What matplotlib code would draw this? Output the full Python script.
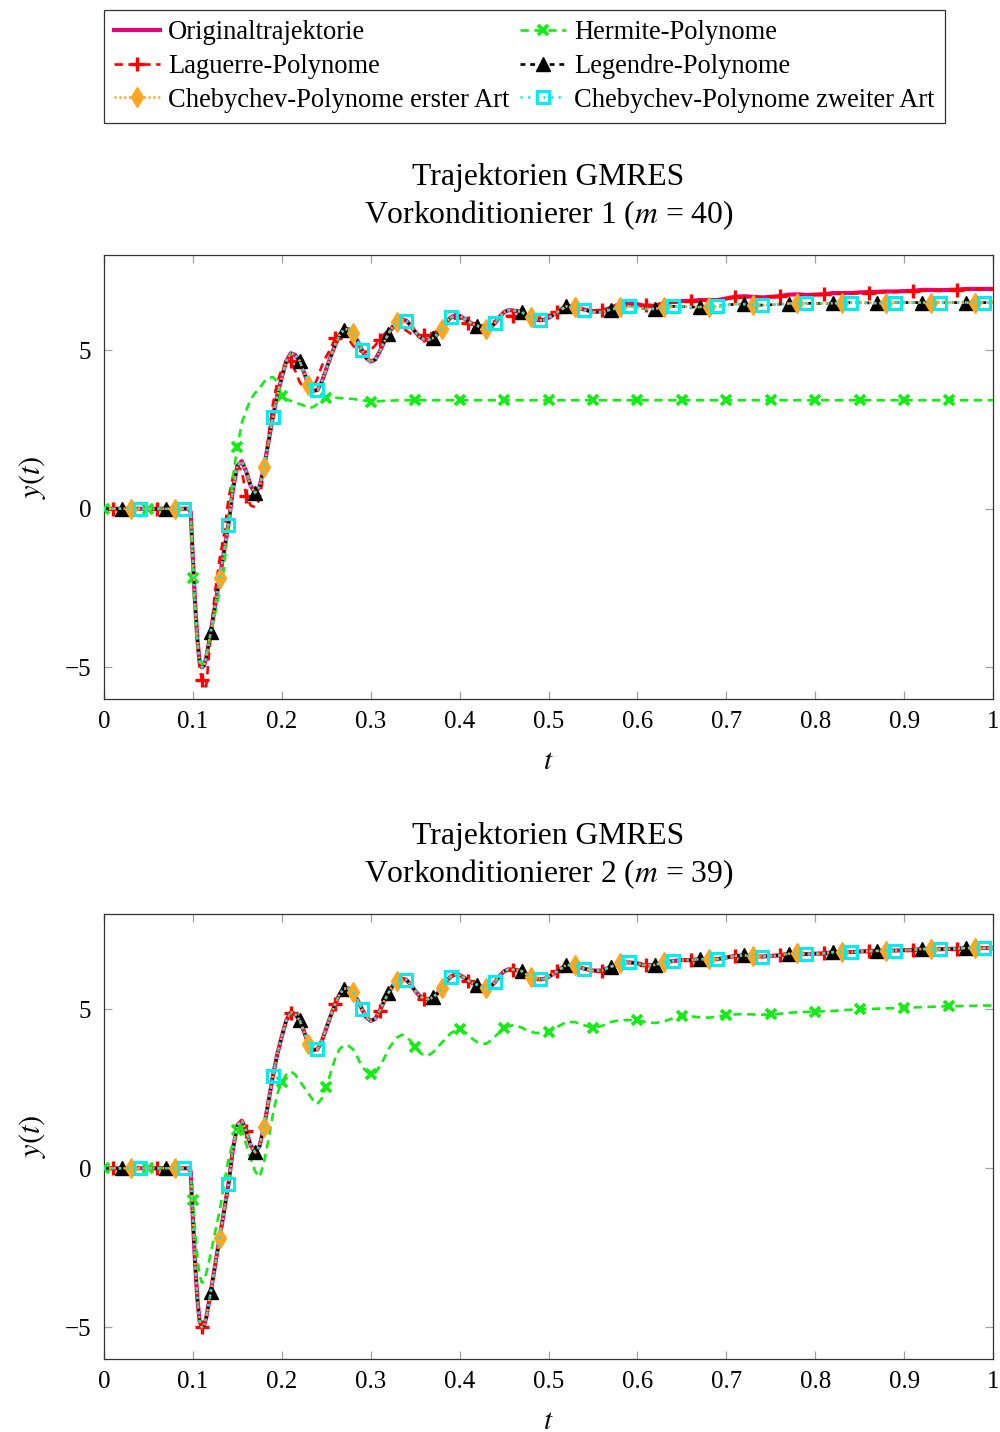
import numpy as np
import matplotlib
matplotlib.use("Agg")
import matplotlib.pyplot as plt

plt.rcParams['font.family'] = ['Liberation Serif', 'DejaVu Serif']
plt.rcParams['mathtext.fontset'] = 'stix'
plt.rcParams['lines.scale_dashes'] = False

# ---------------- data ----------------
T = [0.00, 0.01, 0.02, 0.03, 0.04, 0.05, 0.06, 0.07, 0.08, 0.09,
     0.095, 0.0975, 0.100, 0.1025, 0.105, 0.1075, 0.110, 0.1125, 0.115, 0.120,
     0.125, 0.130, 0.135, 0.140, 0.145, 0.150, 0.155, 0.160, 0.165, 0.170,
     0.175, 0.180, 0.185, 0.190, 0.195, 0.200, 0.205, 0.210, 0.215, 0.220,
     0.225, 0.230, 0.235, 0.240, 0.245, 0.250, 0.255, 0.260, 0.265, 0.270,
     0.275, 0.280, 0.285, 0.290, 0.295, 0.300, 0.305, 0.310, 0.315, 0.320,
     0.325, 0.330, 0.335, 0.340, 0.345, 0.350, 0.355, 0.360, 0.365, 0.370,
     0.375, 0.380, 0.385, 0.390, 0.395, 0.400, 0.405, 0.410, 0.415, 0.420,
     0.425, 0.430, 0.435, 0.440, 0.445, 0.450, 0.455, 0.460, 0.465, 0.470,
     0.475, 0.480, 0.485, 0.490, 0.495, 0.500, 0.51, 0.52, 0.53, 0.54,
     0.55, 0.56, 0.57, 0.58, 0.59, 0.60, 0.61, 0.62, 0.63, 0.64,
     0.65, 0.66, 0.67, 0.68, 0.69, 0.70, 0.71, 0.72, 0.73, 0.74,
     0.75, 0.76, 0.77, 0.78, 0.79, 0.80, 0.81, 0.82, 0.83, 0.84,
     0.85, 0.86, 0.87, 0.88, 0.89, 0.90, 0.91, 0.92, 0.93, 0.94,
     0.95, 0.96, 0.97, 0.98, 0.99, 1.00]

# Original trajectory (same in both panels)
Y_ORIG = [0, 0, 0, 0, 0, 0, 0, 0, 0, 0,
          0.0, -0.1, -1.6, -3.0, -4.1, -4.8, -5.0, -4.95, -4.7, -3.9,
          -3.05, -2.2, -1.35, -0.5, 0.6, 1.35, 1.5, 1.17, 0.72, 0.5,
          0.7, 1.3, 2.1, 2.9, 3.6, 4.15, 4.65, 4.9, 4.85, 4.66,
          4.3, 3.9, 3.72, 3.74, 4.0, 4.4, 4.8, 5.16, 5.48, 5.65,
          5.66, 5.55, 5.3, 5.02, 4.75, 4.64, 4.7, 4.95, 5.25, 5.52,
          5.75, 5.9, 5.97, 5.93, 5.78, 5.58, 5.42, 5.34, 5.32, 5.38,
          5.5, 5.68, 5.88, 6.03, 6.1, 6.08, 6.0, 5.9, 5.82, 5.77,
          5.7, 5.68, 5.72, 5.86, 6.05, 6.2, 6.26, 6.25, 6.23, 6.2,
          6.1, 6.03, 5.97, 5.94, 5.96, 6.02, 6.2, 6.4, 6.38, 6.28,
          6.22, 6.22, 6.34, 6.45, 6.48, 6.45, 6.38, 6.4, 6.48, 6.52,
          6.55, 6.55, 6.58, 6.58, 6.58, 6.63, 6.68, 6.7, 6.68, 6.66,
          6.68, 6.7, 6.75, 6.76, 6.74, 6.75, 6.76, 6.8, 6.8, 6.8,
          6.82, 6.83, 6.84, 6.85, 6.85, 6.86, 6.87, 6.9, 6.9, 6.89,
          6.9, 6.91, 6.93, 6.93, 6.93, 6.93]

# Panel 1 (Vorkonditionierer 1)
Y_LAGUERRE_1 = [0, 0, 0, 0, 0, 0, 0, 0, 0, 0,
                0.0, -0.1, -1.6, -3.1, -4.3, -5.0, -5.4, -5.6, -5.6, -4.0,
                -2.6, -1.6, -0.8, 0.3, 1.0, 1.35, 1.2, 0.4, 0.1, 0.05,
                0.3, 1.2, 2.3, 3.3, 4.0, 4.4, 4.62, 4.65, 4.35, 4.0,
                3.8, 3.7, 3.8, 4.1, 4.5, 4.8, 5.05, 5.37, 5.5, 5.5,
                5.35, 5.15, 5.0, 4.95, 4.95, 5.0, 5.15, 5.31, 5.5, 5.62,
                5.7, 5.72, 5.7, 5.62, 5.52, 5.47, 5.46, 5.47, 5.5, 5.55,
                5.6, 5.68, 5.8, 5.92, 6.0, 6.0, 5.95, 5.85, 5.8, 5.78,
                5.78, 5.8, 5.85, 5.92, 6.0, 6.06, 6.08, 6.08, 6.08, 6.08,
                6.07, 6.05, 6.03, 6.02, 6.05, 6.1, 6.2, 6.28, 6.3, 6.27,
                6.25, 6.28, 6.32, 6.36, 6.4, 6.42, 6.42, 6.44, 6.47, 6.5,
                6.52, 6.55, 6.56, 6.58, 6.6, 6.62, 6.66, 6.67, 6.67, 6.68,
                6.69, 6.7, 6.72, 6.73, 6.74, 6.75, 6.76, 6.77, 6.78, 6.79,
                6.8, 6.81, 6.82, 6.83, 6.84, 6.85, 6.86, 6.87, 6.88, 6.89,
                6.9, 6.91, 6.92, 6.93, 6.93, 6.94]

Y_HERMITE_1 = [0, 0, 0, 0, 0, 0, 0, 0, 0, 0,
               0.0, -0.1, -2.2, -3.4, -4.3, -4.8, -4.9, -4.8, -4.6, -4.0,
               -3.3, -2.6, -1.9, -0.4, 1.0, 1.95, 2.7, 3.1, 3.45, 3.65,
               3.8, 4.0, 4.13, 4.15, 4.0, 3.55, 3.45, 3.4, 3.35, 3.3,
               3.25, 3.18, 3.2, 3.3, 3.42, 3.48, 3.5, 3.5, 3.49, 3.48,
               3.47, 3.46, 3.44, 3.42, 3.4, 3.38, 3.38, 3.39, 3.4, 3.4,
               3.41, 3.42, 3.42, 3.42, 3.42, 3.42, 3.42, 3.42, 3.42, 3.42,
               3.42, 3.42, 3.42, 3.42, 3.42, 3.42, 3.42, 3.42, 3.42, 3.42,
               3.42, 3.42, 3.42, 3.42, 3.42, 3.42, 3.42, 3.42, 3.42, 3.42,
               3.42, 3.42, 3.42, 3.42, 3.42, 3.42, 3.42, 3.42, 3.42, 3.42,
               3.42, 3.42, 3.42, 3.42, 3.42, 3.42, 3.42, 3.42, 3.42, 3.42,
               3.42, 3.42, 3.42, 3.42, 3.42, 3.42, 3.42, 3.42, 3.42, 3.42,
               3.42, 3.42, 3.42, 3.42, 3.42, 3.42, 3.42, 3.42, 3.42, 3.42,
               3.42, 3.42, 3.42, 3.42, 3.42, 3.42, 3.42, 3.42, 3.42, 3.42,
               3.42, 3.42, 3.42, 3.42, 3.42, 3.42]

# Legendre / Chebychev (1st and 2nd kind) coincide in panel 1
Y_ORTHO_1 = [0, 0, 0, 0, 0, 0, 0, 0, 0, 0,
             0.0, -0.1, -1.6, -3.0, -4.1, -4.8, -5.0, -4.95, -4.7, -3.9,
             -3.05, -2.2, -1.35, -0.5, 0.6, 1.35, 1.5, 1.17, 0.72, 0.5,
             0.7, 1.3, 2.1, 2.9, 3.6, 4.15, 4.65, 4.9, 4.85, 4.66,
             4.3, 3.9, 3.72, 3.74, 4.0, 4.4, 4.8, 5.16, 5.48, 5.65,
             5.66, 5.55, 5.3, 5.02, 4.75, 4.64, 4.7, 4.95, 5.25, 5.52,
             5.75, 5.9, 5.97, 5.93, 5.78, 5.58, 5.42, 5.34, 5.32, 5.38,
             5.5, 5.68, 5.88, 6.03, 6.1, 6.08, 6.0, 5.9, 5.82, 5.77,
             5.7, 5.68, 5.72, 5.86, 6.05, 6.2, 6.26, 6.25, 6.23, 6.2,
             6.1, 6.03, 5.97, 5.94, 5.96, 6.02, 6.2, 6.38, 6.36, 6.26,
             6.2, 6.2, 6.28, 6.35, 6.38, 6.36, 6.3, 6.3, 6.35, 6.38,
             6.38, 6.36, 6.36, 6.37, 6.38, 6.42, 6.45, 6.45, 6.43, 6.42,
             6.43, 6.45, 6.47, 6.48, 6.48, 6.47, 6.47, 6.48, 6.49, 6.5,
             6.5, 6.49, 6.48, 6.49, 6.5, 6.5, 6.5, 6.5, 6.5, 6.5,
             6.5, 6.5, 6.5, 6.5, 6.5, 6.5]

# Panel 2 (Vorkonditionierer 2): all except Hermite coincide with original
Y_HERMITE_2 = [0, 0, 0, 0, 0, 0, 0, 0, 0, 0,
               0.0, -0.1, -1.0, -2.0, -2.8, -3.35, -3.6, -3.55, -3.3, -2.7,
               -2.0, -1.35, -0.5, 0.3, 0.8, 1.2, 1.25, 0.75, 0.3, -0.1,
               -0.28, 0.2, 0.9, 1.7, 2.35, 2.7, 2.95, 3.05, 2.95, 2.75,
               2.55, 2.35, 2.15, 2.02, 2.2, 2.56, 3.0, 3.45, 3.75, 3.88,
               3.85, 3.75, 3.5, 3.2, 3.05, 2.96, 3.0, 3.2, 3.45, 3.75,
               3.95, 4.12, 4.2, 4.15, 4.0, 3.83, 3.65, 3.55, 3.55, 3.65,
               3.8, 3.95, 4.1, 4.25, 4.33, 4.37, 4.3, 4.18, 4.06, 3.97,
               3.92, 3.92, 4.02, 4.15, 4.28, 4.4, 4.47, 4.5, 4.48, 4.42,
               4.35, 4.3, 4.26, 4.25, 4.26, 4.28, 4.45, 4.6, 4.6, 4.5,
               4.42, 4.48, 4.6, 4.66, 4.66, 4.65, 4.6, 4.57, 4.62, 4.72,
               4.78, 4.78, 4.75, 4.74, 4.77, 4.81, 4.84, 4.85, 4.84, 4.83,
               4.84, 4.86, 4.89, 4.91, 4.92, 4.93, 4.94, 4.95, 4.97, 4.99,
               5.0, 5.01, 5.02, 5.03, 5.04, 5.05, 5.06, 5.07, 5.08, 5.09,
               5.1, 5.1, 5.11, 5.11, 5.12, 5.12]

LABELS = ["Originaltrajektorie", "Laguerre-Polynome", "Hermite-Polynome",
          "Legendre-Polynome", "Chebychev-Polynome erster Art",
          "Chebychev-Polynome zweiter Art"]
MARK_OFFSETS = [None, 0.01, 0.00, 0.02, 0.03, 0.04]  # first marker position per series
MARK_STEP = 0.05
TITLES = ["Trajektorien GMRES\nVorkonditionierer 1 ($m$ = 40)",
          "Trajektorien GMRES\nVorkonditionierer 2 ($m$ = 39)"]
XTICKS = [0, 0.1, 0.2, 0.3, 0.4, 0.5, 0.6, 0.7, 0.8, 0.9, 1]
XTICKLABELS = ["0", "0.1", "0.2", "0.3", "0.4", "0.5", "0.6", "0.7", "0.8", "0.9", "1"]
YTICKS = [-5, 0, 5]
YTICKLABELS = ["\u22125", "0", "5"]

PANEL_SERIES = [
    [Y_ORIG, Y_LAGUERRE_1, Y_HERMITE_1, Y_ORTHO_1, Y_ORTHO_1, Y_ORTHO_1],
    [Y_ORIG, Y_ORIG, Y_HERMITE_2, Y_ORIG, Y_ORIG, Y_ORIG],
]

# ---------------- styles ----------------
STYLES = [
    dict(color='#e8007c', lw=3.0, ls='-'),
    dict(color='#ff0000', lw=1.9, ls=(0, (6, 4)), marker='+', ms=10, mew=2.4),
    dict(color='#11ee11', lw=1.9, ls=(0, (6, 4)), marker='x', ms=7, mew=2.6),
    dict(color='#000000', lw=1.9, ls=(0, (3.5, 3.5)), marker='^', ms=10, mfc='#000000', mew=1.0),
    dict(color='#ffa520', lw=1.9, ls=(0, (1.5, 2)), marker='d', ms=10, mfc='#ffa520', mew=1.0),
    dict(color='#00eeee', lw=1.9, ls=(0, (1.5, 4)), marker='s', ms=9, mfc='none', mew=2.2),
]

t_arr = np.round(np.array(T), 4)

fig = plt.figure(figsize=(10, 14.32), dpi=100)
ax_pos = [[0.104, 1 - 699 / 1432, 0.889, 444 / 1432],
          [0.104, 1 - 1359 / 1432, 0.889, 445 / 1432]]

handles = []
for p in range(2):
    ax = fig.add_axes(ax_pos[p])
    for k in range(6):
        st = dict(STYLES[k])
        y = np.array(PANEL_SERIES[p][k])
        kw = dict(color=st['color'], lw=st['lw'], ls=st['ls'])
        if MARK_OFFSETS[k] is not None:
            marks = np.round(np.arange(MARK_OFFSETS[k], 1.0 - 1e-9, MARK_STEP), 4)
            idx = [i for i, tv in enumerate(t_arr) if np.any(np.abs(marks - tv) < 1e-6)]
            kw.update(marker=st['marker'], markersize=st['ms'], markeredgewidth=st['mew'],
                      markevery=idx, markeredgecolor=st['color'],
                      markerfacecolor=st.get('mfc', st['color']))
        ln, = ax.plot(t_arr, y, label=LABELS[k], zorder=2 + k, **kw)
        if p == 0:
            handles.append(ln)
    ax.set_xlim(0, 1)
    ax.set_ylim(-6, 8)
    ax.set_xticks(XTICKS)
    ax.set_xticklabels(XTICKLABELS)
    ax.set_yticks(YTICKS)
    ax.set_yticklabels(YTICKLABELS)
    ax.tick_params(direction='in', top=True, right=True, length=6, width=0.9,
                   color='#a0a0a0', labelsize=18, pad=9)
    for s in ax.spines.values():
        s.set_linewidth(0.9)
        s.set_color('#333333')
    ax.set_xlabel(r"$t$", fontsize=21, labelpad=11)
    ax.set_ylabel(r"$y(t)$", fontsize=22, labelpad=12)
    ax.set_title(TITLES[p], fontsize=22.8, linespacing=1.25, pad=23)

order = [0, 1, 4, 2, 3, 5]
leg = fig.legend([handles[i] for i in order], [LABELS[i] for i in order],
                 loc='upper left', bbox_to_anchor=(0.104, 1 - 10 / 1432),
                 bbox_transform=fig.transFigure, ncol=2, fontsize=19.1,
                 frameon=True, fancybox=False, edgecolor='#000000',
                 handlelength=1.74, handletextpad=0.3, columnspacing=0.4,
                 labelspacing=0.33, borderpad=0.38, borderaxespad=0)
leg.get_frame().set_linewidth(0.9)

fig.savefig("out.png", dpi=100)
